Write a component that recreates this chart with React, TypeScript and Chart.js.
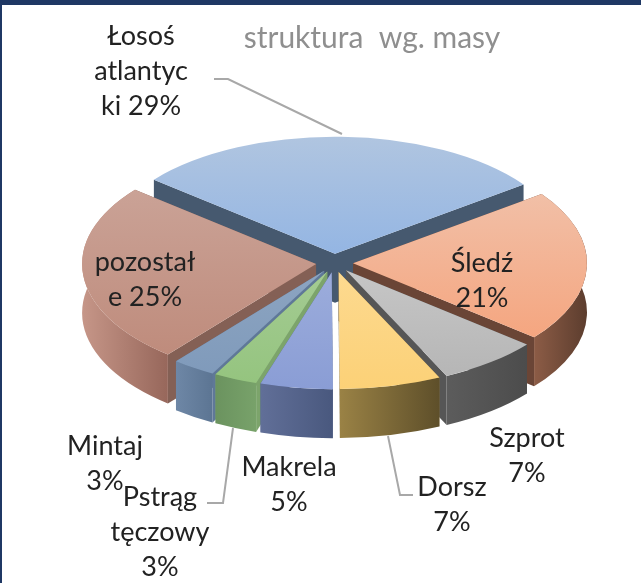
import React, { useEffect, useRef } from "react";
import { Chart, registerables } from "chart.js";

Chart.register(...registerables);

const categories = ["Łosoś atlantycki", "Śledź", "Szprot", "Dorsz", "Makrela", "Pstrąg tęczowy", "Mintaj", "pozostałe"];
const shares = [29, 21, 7, 7, 5, 3, 3, 25];

const titleText = "struktura  wg. masy";
const labelLines = [
  ["Łosoś", "atlantyc", "ki 29%"],
  ["Śledź", "21%"],
  ["Szprot", "7%"],
  ["Dorsz", "7%"],
  ["Makrela", "5%"],
  ["Pstrąg", "tęczowy", "3%"],
  ["Mintaj", "3%"],
  ["pozostał", "e 25%"],
];

// styles
const topColors = [
  ["#b0c5e0", "#78a6e6"],
  ["#f0c8b4", "#f69e74"],
  ["#d8d8d8", "#b4b4b4"],
  ["#fde2a8", "#fcd177"],
  ["#aebce2", "#8a9dd5"],
  ["#b4d2a8", "#94c47e"],
  ["#9bb0c8", "#7e99ba"],
  ["#cda89d", "#bd8878"],
];
const sideColors = [
  ["#3f5166", "#3f5166"],
  ["#8c5c46", "#5c3d2e"],
  ["#5c5c5c", "#4c4c4c"],
  ["#9a8245", "#5e4f2a"],
  ["#616f98", "#49587e"],
  ["#6b935f", "#78a26a"],
  ["#6e87a6", "#5c7593"],
  ["#c69688", "#97675b"],
];
const wallColors = ["#46596f", "#6a4536", "#565656", "#8a7440", "#4f5f86", "#7ca46b", "#5f7898", "#846055"];
const paintOrder = [0, 7, 1, 2, 6, 5, 4, 3];
const labelPlaces = [
  [141, 36], [482, 263], [527, 438], [452, 487], [289, 467], [160, 497], [105, 446], [145, 262],
];
const leaders = [
  [[214, 79], [228, 79], [342, 134]],
  [[388, 436], [400, 495], [413, 495]],
  [[233, 428], [223, 503], [207, 503]],
];
const squash = 0.5;
const depth = 49;
const explode = 18.5;
const lineGap = 35;

const pie3d = {
  id: "pie3d",
  beforeDatasetsDraw(chart: any) {
    const ctx = chart.ctx;
    const arcs = chart.getDatasetMeta(0).data;
    paintOrder.forEach((i) => {
      const a = arcs[i];
      const { x, y, startAngle, endAngle, outerRadius } = a.getProps(["x", "y", "startAngle", "endAngle", "outerRadius"]);
      const r = outerRadius;
      const mid = (startAngle + endAngle) / 2;
      const ax = x + Math.cos(mid) * explode;
      const ay = y + Math.sin(mid) * explode * squash;
      const pt = (t: number) => [ax + Math.cos(t) * r, ay + Math.sin(t) * r * squash];

      // cut walls
      ctx.fillStyle = wallColors[i];
      [startAngle, endAngle].forEach((t: number) => {
        const [px, py] = pt(t);
        ctx.beginPath();
        ctx.moveTo(ax, ay);
        ctx.lineTo(px, py);
        ctx.lineTo(px, py + depth);
        ctx.lineTo(ax, ay + depth);
        ctx.closePath();
        ctx.fill();
      });

      // outer curved side
      let minX = Infinity;
      let maxX = -Infinity;
      for (let s = 0; s <= 64; s++) {
        const t = startAngle + ((endAngle - startAngle) * s) / 64;
        if (Math.sin(t) >= 0) {
          const px = pt(t)[0];
          minX = Math.min(minX, px);
          maxX = Math.max(maxX, px);
        }
      }
      if (maxX > minX) {
        const g = ctx.createLinearGradient(minX, 0, maxX, 0);
        g.addColorStop(0, sideColors[i][0]);
        g.addColorStop(1, sideColors[i][1]);
        ctx.fillStyle = g;
        ctx.beginPath();
        ctx.ellipse(ax, ay, r, r * squash, 0, startAngle, endAngle);
        ctx.ellipse(ax, ay + depth, r, r * squash, 0, endAngle, startAngle, true);
        ctx.closePath();
        ctx.fill();
      }

      // top face, drawn by the library's own arc element
      ctx.save();
      ctx.translate(ax, ay);
      ctx.scale(1, squash);
      ctx.translate(-x, -y);
      a.draw(ctx);
      ctx.restore();
    });
    return false;
  },
  afterDraw(chart: any) {
    const ctx = chart.ctx;
    ctx.save();
    ctx.strokeStyle = "#a8a8a8";
    ctx.lineWidth = 2;
    leaders.forEach((l) => {
      ctx.beginPath();
      l.forEach(([px, py], k) => (k ? ctx.lineTo(px, py) : ctx.moveTo(px, py)));
      ctx.stroke();
    });
    ctx.textAlign = "center";
    ctx.textBaseline = "middle";
    ctx.fillStyle = "#8f8f8f";
    ctx.font = "30px Lato";
    ctx.fillText(titleText, 372, 38);
    ctx.fillStyle = "#222222";
    ctx.font = "27px Lato";
    labelLines.forEach((lines, i) => {
      lines.forEach((t, k) => ctx.fillText(t, labelPlaces[i][0], labelPlaces[i][1] + k * lineGap));
    });
    ctx.restore();
  },
};

export default function App() {
  const ref = useRef<HTMLCanvasElement>(null);
  useEffect(() => {
    const chart = new Chart(ref.current as HTMLCanvasElement, {
      type: "pie",
      data: {
        labels: categories,
        datasets: [
          {
            data: shares,
            borderWidth: 0,
            backgroundColor: (c: any) => {
              const area = c.chart.chartArea;
              const i = c.dataIndex;
              if (!area || i === undefined) return "#888888";
              const cy = (area.top + area.bottom) / 2;
              const g = c.chart.ctx.createLinearGradient(0, cy - 234, 0, cy + 234);
              g.addColorStop(0, topColors[i][0]);
              g.addColorStop(1, topColors[i][1]);
              return g;
            },
          },
        ],
      },
      options: {
        responsive: false,
        animation: false,
        radius: 234,
        rotation: -50.7,
        layout: { padding: { left: 28, right: 0, top: 0, bottom: 57 } },
        plugins: { legend: { display: false }, tooltip: { enabled: false }, title: { display: false } },
      } as any,
      plugins: [pie3d as any],
    });
    return () => chart.destroy();
  }, []);
  return (
    <div style={{ position: "fixed", left: 0, top: 0, width: 641, height: 583, background: "#ffffff", overflow: "hidden" }}>
      <canvas ref={ref} width={641} height={583} style={{ display: "block", filter: "blur(0.5px)" }} />
      <div style={{ position: "absolute", left: 0, top: 0, width: 641, height: 5, background: "#1f3864" }} />
      <div style={{ position: "absolute", left: 0, top: 0, width: 2, height: 583, background: "#1f3864" }} />
    </div>
  );
}
